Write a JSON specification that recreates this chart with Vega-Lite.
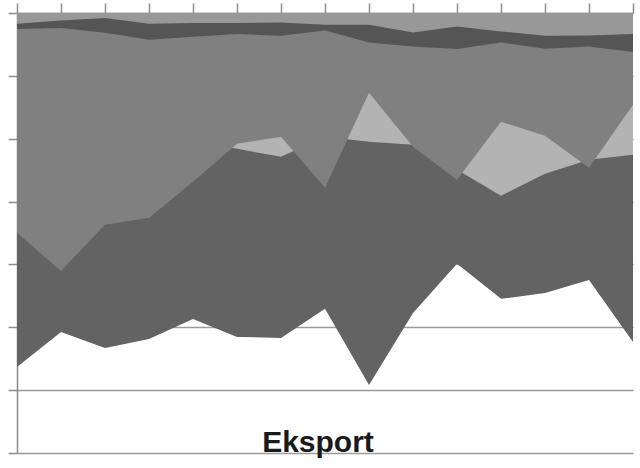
{
  "$schema": "https://vega.github.io/schema/vega-lite/v6.json",
  "width": 616,
  "height": 440,
  "autosize": {"type": "none"},
  "padding": {"left": 17, "top": 13, "right": 7, "bottom": 15},
  "background": "white",
  "config": {"view": {"stroke": null}},
  "title": {"text": "Eksport", "orient": "bottom", "anchor": "middle", "frame": "group", "offset": -2, "baseline": "alphabetic", "dx": -7, "font": "Liberation Sans", "fontSize": 30, "fontWeight": "bold", "color": "#1a1a1a"},
  "data": {"values": [
    {"t":1,"s":"S1","v":5631},{"t":2,"s":"S1","v":5074},{"t":3,"s":"S1","v":5328},{"t":4,"s":"S1","v":5185},{"t":5,"s":"S1","v":4867},{"t":6,"s":"S1","v":5153},{"t":7,"s":"S1","v":5169},{"t":8,"s":"S1","v":4707},{"t":9,"s":"S1","v":5917},{"t":10,"s":"S1","v":4771},{"t":11,"s":"S1","v":3991},{"t":12,"s":"S1","v":4548},{"t":13,"s":"S1","v":4453},{"t":14,"s":"S1","v":4246},{"t":15,"s":"S1","v":5233},
    {"t":1,"s":"S2","v":2176},{"t":2,"s":"S2","v":2176},{"t":3,"s":"S2","v":2176},{"t":4,"s":"S2","v":2176},{"t":5,"s":"S2","v":2033},{"t":6,"s":"S2","v":2160},{"t":7,"s":"S2","v":2288},{"t":8,"s":"S2","v":1969},{"t":9,"s":"S2","v":2049},{"t":10,"s":"S2","v":2097},{"t":11,"s":"S2","v":2495},{"t":12,"s":"S2","v":2909},{"t":13,"s":"S2","v":2558},{"t":14,"s":"S2","v":2335},{"t":15,"s":"S2","v":2256},
    {"t":1,"s":"S3","v":3498},{"t":2,"s":"S3","v":4103},{"t":3,"s":"S3","v":3370},{"t":4,"s":"S3","v":3259},{"t":5,"s":"S3","v":2686},{"t":6,"s":"S3","v":2081},{"t":7,"s":"S3","v":1969},{"t":8,"s":"S3","v":2781},{"t":9,"s":"S3","v":1269},{"t":10,"s":"S3","v":2129},{"t":11,"s":"S3","v":2654},{"t":12,"s":"S3","v":1731},{"t":13,"s":"S3","v":1953},{"t":14,"s":"S3","v":2463},{"t":15,"s":"S3","v":1460},
    {"t":1,"s":"S4","v":255},{"t":2,"s":"S4","v":239},{"t":3,"s":"S4","v":314},{"t":4,"s":"S4","v":425},{"t":5,"s":"S4","v":377},{"t":6,"s":"S4","v":334},{"t":7,"s":"S4","v":361},{"t":8,"s":"S4","v":277},{"t":9,"s":"S4","v":468},{"t":10,"s":"S4","v":532},{"t":11,"s":"S4","v":573},{"t":12,"s":"S4","v":468},{"t":13,"s":"S4","v":568},{"t":14,"s":"S4","v":532},{"t":15,"s":"S4","v":621},
    {"t":1,"s":"S5","v":170},{"t":2,"s":"S5","v":118},{"t":3,"s":"S5","v":80},{"t":4,"s":"S5","v":170},{"t":5,"s":"S5","v":159},{"t":6,"s":"S5","v":159},{"t":7,"s":"S5","v":150},{"t":8,"s":"S5","v":186},{"t":9,"s":"S5","v":186},{"t":10,"s":"S5","v":309},{"t":11,"s":"S5","v":213},{"t":12,"s":"S5","v":293},{"t":13,"s":"S5","v":361},{"t":14,"s":"S5","v":357},{"t":15,"s":"S5","v":334}
  ]},
  "encoding": {
    "x": {"field": "t", "type": "quantitative", "scale": {"domain": [1, 15], "nice": false, "zero": false},
      "axis": {"orient": "top", "values": [1,2,3,4,5,6,7,8,9,10,11,12,13,14,15], "labels": false, "title": null, "grid": false, "tickSize": 10, "tickColor": "#8c8c8c", "domainColor": "#8c8c8c", "domainWidth": 1.5, "tickWidth": 1.5}},
    "y": {"field": "v", "type": "quantitative", "stack": null, "scale": {"domain": [0, 7000], "nice": false, "reverse": true},
      "axis": {"orient": "left", "values": [0,1000,2000,3000,4000,5000,6000,7000], "labels": false, "title": null, "grid": true, "gridColor": "#9a9a9a", "gridWidth": 1.5, "tickSize": 9, "tickColor": "#8c8c8c", "domainColor": "#8c8c8c", "domainWidth": 1.5, "tickWidth": 1.5}},
    "color": {"field": "s", "type": "nominal", "legend": null, "scale": {"domain": ["S1","S2","S3","S4","S5"], "range": ["#636363","#b3b3b3","#808080","#555555","#989898"]}}
  },
  "layer": [
    {"transform": [{"filter": "datum.s === 'S1'"}], "mark": {"type": "area", "opacity": 1}},
    {"transform": [{"filter": "datum.s === 'S2'"}], "mark": {"type": "area", "opacity": 1}},
    {"transform": [{"filter": "datum.s === 'S3'"}], "mark": {"type": "area", "opacity": 1}},
    {"transform": [{"filter": "datum.s === 'S4'"}], "mark": {"type": "area", "opacity": 1}},
    {"transform": [{"filter": "datum.s === 'S5'"}], "mark": {"type": "area", "opacity": 1}}
  ]
}
